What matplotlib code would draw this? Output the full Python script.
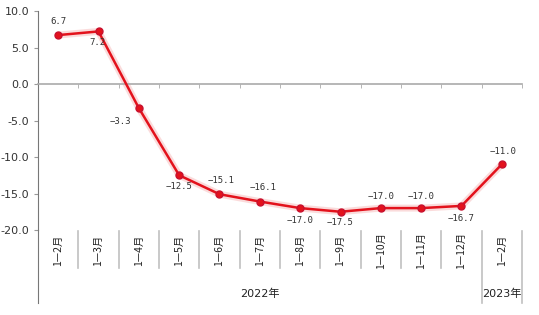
import numpy as np
import matplotlib
matplotlib.use("Agg")
import matplotlib.pyplot as plt
from matplotlib.ticker import FormatStrFormatter

plt.rcParams['font.family'] = ['DejaVu Sans', 'Noto Sans CJK SC']
plt.rcParams['axes.unicode_minus'] = False

months = ['1—2月', '1—3月', '1—4月', '1—5月', '1—6月', '1—7月', '1—8月',
          '1—9月', '1—10月', '1—11月', '1—12月', '1—2月']
values = [6.7, 7.2, -3.3, -12.5, -15.1, -16.1, -17.0, -17.5, -17.0, -17.0, -16.7, -11.0]
years = ['2022年', '2023年']
year_counts = [11, 1]
# label offsets (points) for each data label
label_dx = [0, -1, -13, 0, 1, 2, 0, 0, 0, 0, 0, 1]
label_dy = [10, -8, -10, -8, 10, 10, -9, -8, 8, 8, -9, 9]

fig = plt.figure(figsize=(5.39, 3.15), dpi=100)
ax = fig.add_axes([38 / 539, 85 / 315, 484 / 539, 219 / 315])

x = np.arange(len(values))
red = '#e3121c'
# soft glow behind the line
ax.plot(x, values, color='#f7b8b8', lw=5, alpha=0.5, solid_capstyle='round', zorder=2)
ax.plot(x, values, color=red, lw=1.8, marker='o', markersize=5,
        markerfacecolor=red, markeredgecolor='#c8102e', zorder=3)

for i, v in enumerate(values):
    txt = ('%.1f' % v).replace('-', '\u2212')
    ax.annotate(txt, (x[i], v), xytext=(label_dx[i], label_dy[i]),
                textcoords='offset points', ha='center', va='center',
                fontsize=6.5, family='DejaVu Sans Mono', color='#333333')

ax.set_xlim(-0.5, len(values) - 0.5)
ax.set_ylim(-20, 10)
ax.set_yticks([10, 5, 0, -5, -10, -15, -20])
ax.yaxis.set_major_formatter(FormatStrFormatter('%.1f'))
ax.tick_params(axis='y', labelsize=8, labelcolor='#333333', length=3, width=0.8,
               color='#999999')

for s in ['top', 'right']:
    ax.spines[s].set_visible(False)
ax.spines['left'].set_color('#777777')
ax.spines['left'].set_linewidth(0.8)
ax.spines['bottom'].set_position(('data', 0))
ax.spines['bottom'].set_color('#aaaaaa')
ax.spines['bottom'].set_linewidth(1.2)
ax.set_xticks(np.arange(-0.5, len(values), 1.0))
ax.set_xticklabels([])
ax.tick_params(axis='x', direction='out', length=3, color='#aaaaaa', width=0.6)

# category labels and separators below the plot
tr = ax.get_xaxis_transform()
for i, m in enumerate(months):
    ax.text(x[i], -0.095, m, rotation=90, ha='center', va='center', transform=tr,
            fontsize=7.5, family=['Noto Sans CJK SC'], color='#222222')

long_sep = np.cumsum(year_counts) - 0.5
for b in np.arange(0.5, len(values), 1.0):
    bottom = -0.333 if b in long_sep else -0.175
    ax.plot([b, b], [-0.005, bottom], transform=tr, color='#c0c0c0', lw=1.2,
            clip_on=False, zorder=1)
ax.plot([-0.5, -0.5], [0, -0.333], transform=tr, color='#777777', lw=0.8, clip_on=False)

start = -0.5
for yr, n in zip(years, year_counts):
    ax.text(start + n / 2, -0.29, yr, ha='center', va='center', transform=tr,
            fontsize=8, family=['DejaVu Sans', 'Noto Sans CJK SC'], color='#222222')
    start += n

fig.savefig('out.png', dpi=100)
